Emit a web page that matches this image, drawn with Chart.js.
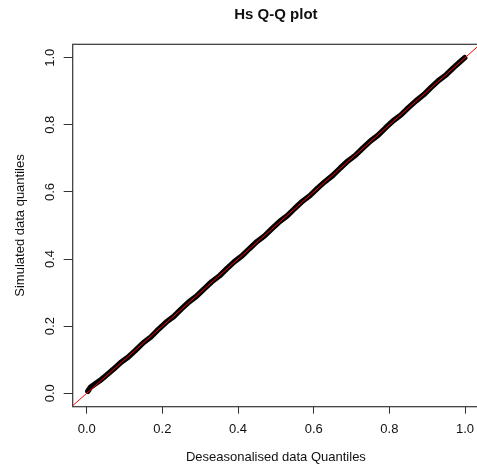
<!DOCTYPE html>
<html>
<head>
<meta charset="utf-8">
<script src="https://cdn.jsdelivr.net/npm/chart.js@4"></script>
<style>
  html, body { margin: 0; padding: 0; background: #fff; overflow: hidden; }
  canvas { display: block; }
</style>
</head>
<body>
<canvas id="qq" width="482" height="470"></canvas>
<script>
// sample quantiles
const qX = [0.003, 0.010, 0.020, 0.035, 0.050, 0.070, 0.090, 0.110, 0.130, 0.150,
            0.170, 0.190, 0.210, 0.230, 0.250, 0.270, 0.290, 0.310, 0.330, 0.350,
            0.370, 0.390, 0.410, 0.430, 0.450, 0.470, 0.490, 0.510, 0.530, 0.550,
            0.570, 0.590, 0.610, 0.630, 0.650, 0.670, 0.690, 0.710, 0.730, 0.750,
            0.770, 0.790, 0.810, 0.830, 0.850, 0.870, 0.890, 0.910, 0.930, 0.950,
            0.970, 0.985, 0.999];
const qY = [0.006, 0.018, 0.026, 0.038, 0.052, 0.071, 0.092, 0.108, 0.129, 0.151,
            0.168, 0.191, 0.212, 0.229, 0.251, 0.272, 0.289, 0.311, 0.332, 0.349,
            0.371, 0.392, 0.409, 0.431, 0.452, 0.469, 0.491, 0.512, 0.529, 0.551,
            0.572, 0.589, 0.611, 0.631, 0.649, 0.671, 0.692, 0.709, 0.731, 0.752,
            0.769, 0.791, 0.812, 0.829, 0.851, 0.871, 0.889, 0.911, 0.932, 0.949,
            0.971, 0.986, 1.000];

// y = x reference line (abline)
const refLine = [-0.1, 1.1];

const xTicks = [0, 0.2, 0.4, 0.6, 0.8, 1.0];
const yTicks = [0, 0.2, 0.4, 0.6, 0.8, 1.0];
const xRange = [-0.037, 1.037];
const yRange = [-0.04, 1.04];

const FONT = "'Liberation Sans', Arial, sans-serif";

// box round the plot + rotated y tick labels like base R
const rStyle = {
    id: 'rStyle',
    afterDatasetsDraw(chart) {
        const { ctx, chartArea: a, scales } = chart;
        ctx.save();
        ctx.strokeStyle = '#333';
        ctx.lineWidth = 1.2;
        ctx.strokeRect(a.left, a.top, a.right - a.left, a.bottom - a.top);
        ctx.fillStyle = '#111';
        ctx.font = '13px ' + FONT;
        ctx.textAlign = 'center';
        ctx.textBaseline = 'middle';
        yTicks.forEach(v => {
            const y = scales.y.getPixelForValue(v);
            ctx.save();
            ctx.translate(50, y);
            ctx.rotate(-Math.PI / 2);
            ctx.fillText(v.toFixed(1), 0, 0);
            ctx.restore();
        });
        ctx.restore();
    }
};

const data = {
    datasets: [{
        label: 'y = x',
        data: refLine.map(v => ({ x: v, y: v })),
        borderColor: '#ff0000',
        borderWidth: 1,
        pointRadius: 0,
        order: 0
    }, {
        label: 'quantiles',
        data: qX.map((v, i) => ({ x: v, y: qY[i] })),
        borderColor: '#000',
        borderWidth: 5.5,
        borderCapStyle: 'round',
        borderJoinStyle: 'round',
        pointRadius: 0,
        order: 1
    }]
};

const options = {
    responsive: false,
    animation: false,
    layout: { padding: { left: 0, right: 2, top: 0, bottom: 0 } },
    plugins: {
        legend: { display: false },
        tooltip: { enabled: false },
        title: {
            display: true,
            text: 'Hs Q-Q plot',
            fullSize: false,
            color: '#111',
            font: { family: FONT, size: 15, weight: 'bold' },
            padding: { top: 6, bottom: 20.3 }
        }
    },
    scales: {
        x: {
            type: 'linear',
            min: xRange[0],
            max: xRange[1],
            afterBuildTicks: s => { s.ticks = xTicks.map(v => ({ value: v })); },
            afterFit: s => { s.height = 63.3; },
            border: { display: false },
            grid: { drawOnChartArea: false, drawTicks: true, tickLength: 7, color: '#333' },
            ticks: {
                color: '#111',
                font: { family: FONT, size: 13 },
                padding: 7.8,
                maxRotation: 0,
                callback: v => v.toFixed(1)
            },
            title: {
                display: true,
                text: 'Deseasonalised data Quantiles',
                color: '#111',
                font: { family: FONT, size: 13 },
                padding: { top: 0, bottom: 5.2 }
            }
        },
        y: {
            type: 'linear',
            min: yRange[0],
            max: yRange[1],
            afterBuildTicks: s => { s.ticks = yTicks.map(v => ({ value: v })); },
            afterFit: s => { s.width = 72.7; },
            border: { display: false },
            grid: { drawOnChartArea: false, drawTicks: true, tickLength: 9, color: '#333' },
            ticks: { display: false },
            title: {
                display: true,
                text: 'Simulated data quantiles',
                color: '#111',
                font: { family: FONT, size: 13 },
                padding: { top: 12.2, bottom: 0 }
            }
        }
    }
};

new Chart(document.getElementById('qq'), {
    type: 'line',
    data: data,
    options: options,
    plugins: [rStyle]
});
</script>
</body>
</html>
